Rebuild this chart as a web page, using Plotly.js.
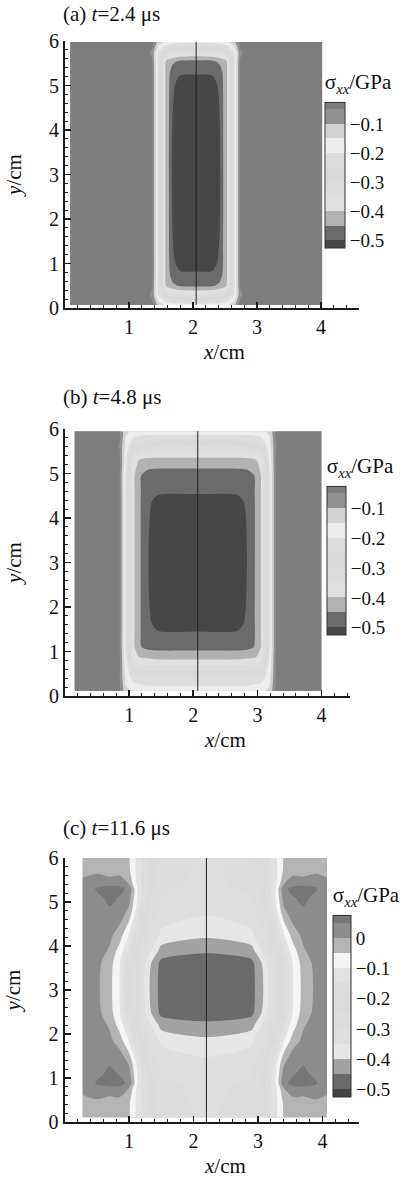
<!DOCTYPE html>
<html><head><meta charset="utf-8">
<script src="https://cdn.plot.ly/plotly-3.0.1.min.js"></script>
<style>html,body{margin:0;padding:0;background:#fff}#chart{width:400px;height:1179px}</style>
</head><body><div id="chart"></div>
<script>
// ---------- data (cm, GPa) ----------
// (a) t = 2.4 us
const xa = [0.08, 1.2, 1.36, 1.46, 1.58, 1.68, 1.8, 2.05, 2.3, 2.42, 2.52, 2.64, 2.74, 2.9, 4.02];
const ya = [0.07, 0.3, 0.5, 0.76, 1.05, 5.0, 5.3, 5.55, 5.75, 5.98];
const za = [
  [-0.02,-0.02,-0.03,-0.12,-0.16,-0.17,-0.18,-0.18,-0.18,-0.17,-0.16,-0.12,-0.03,-0.02,-0.02],
  [-0.02,-0.02,-0.06,-0.21,-0.28,-0.32,-0.34,-0.35,-0.34,-0.32,-0.28,-0.21,-0.06,-0.02,-0.02],
  [-0.02,-0.02,-0.045,-0.22,-0.405,-0.44,-0.455,-0.46,-0.455,-0.44,-0.405,-0.22,-0.045,-0.02,-0.02],
  [-0.02,-0.02,-0.04,-0.22,-0.42,-0.47,-0.485,-0.485,-0.485,-0.47,-0.42,-0.22,-0.04,-0.02,-0.02],
  [-0.02,-0.02,-0.04,-0.22,-0.42,-0.48,-0.545,-0.56,-0.545,-0.48,-0.42,-0.22,-0.04,-0.02,-0.02],
  [-0.02,-0.02,-0.04,-0.22,-0.42,-0.48,-0.545,-0.56,-0.545,-0.48,-0.42,-0.22,-0.04,-0.02,-0.02],
  [-0.02,-0.02,-0.04,-0.22,-0.42,-0.47,-0.485,-0.485,-0.485,-0.47,-0.42,-0.22,-0.04,-0.02,-0.02],
  [-0.02,-0.02,-0.045,-0.22,-0.405,-0.44,-0.455,-0.46,-0.455,-0.44,-0.405,-0.22,-0.045,-0.02,-0.02],
  [-0.02,-0.02,-0.06,-0.21,-0.28,-0.32,-0.34,-0.35,-0.34,-0.32,-0.28,-0.21,-0.06,-0.02,-0.02],
  [-0.02,-0.02,-0.03,-0.12,-0.16,-0.17,-0.18,-0.18,-0.18,-0.17,-0.16,-0.12,-0.03,-0.02,-0.02]
];
// (b) t = 4.8 us
const xb = [0.15, 0.7, 0.85, 0.95, 1.07, 1.16, 1.3, 1.45, 2.07, 2.69, 2.84, 2.98, 3.07, 3.19, 3.29, 3.44, 4.0];
const yb = [0.11, 0.45, 0.8, 1.1, 1.4, 1.65, 4.35, 4.6, 4.95, 5.3, 5.6, 5.95];
const zb = [
  [-0.02,-0.02,-0.04,-0.14,-0.16,-0.165,-0.17,-0.17,-0.17,-0.17,-0.17,-0.165,-0.16,-0.14,-0.04,-0.02,-0.02],
  [-0.02,-0.02,-0.045,-0.17,-0.23,-0.24,-0.255,-0.255,-0.255,-0.255,-0.255,-0.24,-0.23,-0.17,-0.045,-0.02,-0.02],
  [-0.02,-0.02,-0.04,-0.19,-0.35,-0.385,-0.39,-0.395,-0.395,-0.395,-0.39,-0.385,-0.35,-0.19,-0.04,-0.02,-0.02],
  [-0.02,-0.02,-0.045,-0.21,-0.39,-0.445,-0.465,-0.47,-0.47,-0.47,-0.465,-0.445,-0.39,-0.21,-0.045,-0.02,-0.02],
  [-0.02,-0.02,-0.045,-0.21,-0.39,-0.445,-0.48,-0.485,-0.485,-0.485,-0.48,-0.445,-0.39,-0.21,-0.045,-0.02,-0.02],
  [-0.02,-0.02,-0.045,-0.21,-0.39,-0.445,-0.48,-0.54,-0.56,-0.54,-0.48,-0.445,-0.39,-0.21,-0.045,-0.02,-0.02],
  [-0.02,-0.02,-0.045,-0.21,-0.39,-0.445,-0.48,-0.54,-0.56,-0.54,-0.48,-0.445,-0.39,-0.21,-0.045,-0.02,-0.02],
  [-0.02,-0.02,-0.045,-0.21,-0.39,-0.445,-0.475,-0.48,-0.48,-0.48,-0.475,-0.445,-0.39,-0.21,-0.045,-0.02,-0.02],
  [-0.02,-0.02,-0.045,-0.21,-0.39,-0.445,-0.47,-0.475,-0.475,-0.475,-0.47,-0.445,-0.39,-0.21,-0.045,-0.02,-0.02],
  [-0.02,-0.02,-0.04,-0.19,-0.36,-0.405,-0.42,-0.42,-0.42,-0.42,-0.42,-0.405,-0.36,-0.19,-0.04,-0.02,-0.02],
  [-0.02,-0.025,-0.052,-0.17,-0.26,-0.28,-0.29,-0.305,-0.305,-0.305,-0.29,-0.28,-0.26,-0.17,-0.052,-0.025,-0.02],
  [-0.02,-0.02,-0.04,-0.14,-0.16,-0.165,-0.17,-0.17,-0.17,-0.17,-0.17,-0.165,-0.16,-0.14,-0.04,-0.02,-0.02]
];
// (c) t = 11.6 us
const xc = [0.28, 0.5, 0.7, 0.85, 1.0, 1.15, 1.33, 1.5, 2.2, 2.9, 3.07, 3.25, 3.4, 3.55, 3.7, 3.9, 4.07];
const yc = [0.11, 0.45, 0.78, 0.88, 1.08, 1.38, 1.85, 2.2, 2.5, 3.6, 3.9, 4.25, 4.8, 5.1, 5.3, 5.4, 5.7, 6.0];
const zc = [
  [-0.02,-0.02,-0.02,-0.03,-0.045,-0.12,-0.21,-0.26,-0.31,-0.26,-0.21,-0.12,-0.045,-0.03,-0.02,-0.02,-0.02],
  [-0.01,-0.01,-0.03,-0.02,-0.04,-0.13,-0.22,-0.27,-0.32,-0.27,-0.22,-0.13,-0.04,-0.02,-0.03,-0.01,-0.01],
  [0.01,0.04,0.042,0.04,0.0,-0.13,-0.22,-0.28,-0.32,-0.28,-0.22,-0.13,0.0,0.04,0.042,0.04,0.01],
  [0.01,0.055,0.07,0.065,0.04,-0.12,-0.23,-0.29,-0.325,-0.29,-0.23,-0.12,0.04,0.065,0.07,0.055,0.01],
  [0.02,0.04,0.06,0.048,0.02,-0.12,-0.24,-0.305,-0.33,-0.305,-0.24,-0.12,0.02,0.048,0.06,0.04,0.02],
  [0.025,0.035,0.045,0.03,-0.01,-0.14,-0.26,-0.32,-0.34,-0.32,-0.26,-0.14,-0.01,0.03,0.045,0.035,0.025],
  [0.03,0.025,0.01,-0.02,-0.105,-0.21,-0.31,-0.36,-0.39,-0.36,-0.31,-0.21,-0.105,-0.02,0.01,0.025,0.03],
  [0.035,0.02,-0.005,-0.07,-0.15,-0.24,-0.34,-0.42,-0.435,-0.42,-0.34,-0.24,-0.15,-0.07,-0.005,0.02,0.035],
  [0.035,0.015,-0.03,-0.09,-0.21,-0.28,-0.395,-0.465,-0.485,-0.465,-0.395,-0.28,-0.21,-0.09,-0.03,0.015,0.035],
  [0.035,0.015,-0.03,-0.09,-0.21,-0.28,-0.395,-0.465,-0.485,-0.465,-0.395,-0.28,-0.21,-0.09,-0.03,0.015,0.035],
  [0.035,0.02,-0.005,-0.07,-0.15,-0.24,-0.34,-0.42,-0.44,-0.42,-0.34,-0.24,-0.15,-0.07,-0.005,0.02,0.035],
  [0.03,0.025,0.01,-0.02,-0.105,-0.21,-0.31,-0.36,-0.39,-0.36,-0.31,-0.21,-0.105,-0.02,0.01,0.025,0.03],
  [0.025,0.035,0.045,0.03,-0.01,-0.14,-0.26,-0.32,-0.34,-0.32,-0.26,-0.14,-0.01,0.03,0.045,0.035,0.025],
  [0.02,0.04,0.06,0.048,0.02,-0.12,-0.24,-0.305,-0.33,-0.305,-0.24,-0.12,0.02,0.048,0.06,0.04,0.02],
  [0.01,0.055,0.07,0.065,0.04,-0.12,-0.23,-0.29,-0.325,-0.29,-0.23,-0.12,0.04,0.065,0.07,0.055,0.01],
  [0.01,0.04,0.042,0.04,0.0,-0.13,-0.22,-0.28,-0.32,-0.28,-0.22,-0.13,0.0,0.04,0.042,0.04,0.01],
  [-0.01,-0.01,-0.03,-0.02,-0.04,-0.13,-0.22,-0.27,-0.32,-0.27,-0.22,-0.13,-0.04,-0.02,-0.03,-0.01,-0.01],
  [-0.02,-0.02,-0.02,-0.03,-0.045,-0.12,-0.21,-0.26,-0.31,-0.26,-0.21,-0.12,-0.045,-0.03,-0.02,-0.02,-0.02]
];
// measuring line positions (cm)
const cutX = [2.05, 2.07, 2.2];
const cutYa = [0.07, 5.98];
const cutYb = [0.11, 5.95];
const cutYc = [0.0, 6.15];
// contour level sets (GPa)
const levelsAB = {start: -0.5, end: -0.05, size: 0.05};
const levelsC  = {start: -0.5, end: 0.05, size: 0.05};
// tick labels
const xTicks = [1, 2, 3, 4];
const titles = ['(a) <i>t</i>=2.4 \u03bcs', '(b) <i>t</i>=4.8 \u03bcs', '(c) <i>t</i>=11.6 \u03bcs'];
const xTitle = '<i>x</i>/cm';
const yTitle = '<i>y</i>/cm';
const cbTitle = '\u03c3<sub><i>xx</i></sub>/GPa';

// ---------- styles ----------
const grayAB = ['#474747','#6b6b6b','#b2b2b2','#e0e0e0','#dcdcdc','#d9d9d9','#dcdcdc','#ececec','#d2d2d2','#909090','#7d7d7d'];
const grayC  = ['#444444','#6a6a6a','#a2a2a2','#e6e6e6','#dedede','#dcdcdc','#dadada','#dcdcdc','#e1e1e1','#f4f4f4','#b4b4b4','#8c8c8c','#767676'];
function scale(cols){ return cols.map((c,i)=>[i/(cols.length-1), c]); }

const W = 400, H = 1179;
const FONT = 'Liberation Serif, Times New Roman, serif';
const px = v => v / W;
const py = v => 1 - v / H;

function cbar(left, top, lenPx, thick){
  return {
    x: px(left), xanchor: 'left', xref: 'paper', xpad: 0,
    y: py(top), yanchor: 'top', yref: 'paper', ypad: 0,
    lenmode: 'pixels', len: lenPx, thicknessmode: 'pixels', thickness: thick,
    outlinewidth: 1, outlinecolor: '#333',
    ticks: '', tickmode: 'linear', tick0: 0, dtick: 0.1, ticklabelpad: 5,
    tickfont: {family: FONT, size: 19, color: '#111'},
    title: {text: cbTitle, side: 'top', font: {family: FONT, size: 21, color: '#111'}}
  };
}

function contour(x, y, z, lv, cols, xa_, ya_, cb){
  return {type: 'contour', x: x, y: y, z: z, xaxis: xa_, yaxis: ya_,
    autocontour: false, contours: Object.assign({coloring: 'fill', showlines: false}, lv),
    colorscale: scale(cols), line: {width: 0, smoothing: 0.7}, colorbar: cb, hoverinfo: 'skip'};
}
function cut(xv, yv, xa_, ya_){
  return {type: 'scatter', mode: 'lines', x: [xv, xv], y: yv, xaxis: xa_, yaxis: ya_,
    line: {color: '#222', width: 1}, showlegend: false, hoverinfo: 'skip'};
}

const data = [
  contour(xa, ya, za, levelsAB, grayAB, 'x', 'y', cbar(327, 71, 177, 20)),
  contour(xb, yb, zb, levelsAB, grayAB, 'x2', 'y2', cbar(329, 455, 180, 19)),
  contour(xc, yc, zc, levelsC, grayC, 'x3', 'y3', cbar(335, 884, 213, 18)),
  cut(cutX[0], cutYa, 'x', 'y'),
  cut(cutX[1], cutYb, 'x2', 'y2'),
  cut(cutX[2], cutYc, 'x3', 'y3')
];

function xAxis(dom, rng, anchor){
  return {domain: dom, range: rng, anchor: anchor, showline: true, linecolor: '#1a1a1a', linewidth: 2,
    ticks: 'inside', ticklen: 6, tickwidth: 1.5, tickcolor: '#1a1a1a', showgrid: false, zeroline: false,
    tickmode: 'array', tickvals: xTicks, ticktext: xTicks.map(String),
    tickfont: {family: FONT, size: 20, color: '#111'},
    minor: {tickmode: 'linear', tick0: 0, dtick: 0.2, ticks: 'inside', ticklen: 3, tickwidth: 1, tickcolor: '#1a1a1a', showgrid: false},
    fixedrange: true};
}
function yAxis(dom, anchor){
  return {domain: dom, range: [0, 6], anchor: anchor, showline: true, linecolor: '#1a1a1a', linewidth: 2,
    ticks: 'inside', ticklen: 6, tickwidth: 1.5, tickcolor: '#1a1a1a', showgrid: false, zeroline: false,
    tickmode: 'linear', tick0: 0, dtick: 1,
    tickfont: {family: FONT, size: 20, color: '#111'},
    minor: {tickmode: 'linear', tick0: 0, dtick: 0.2, ticks: 'inside', ticklen: 3, tickwidth: 1, tickcolor: '#1a1a1a', showgrid: false},
    title: {text: yTitle, font: {family: FONT, size: 21, color: '#111'}, standoff: 22},
    fixedrange: true};
}

const panelTop = [14, 397, 828];
const xTitleY = [352, 740, 1166];
const xTitleRef = ['x', 'x2', 'x3'];
const annotations = titles.map((t, i) => ({text: t, xref: 'paper', yref: 'paper', x: px(61), y: py(panelTop[i]),
    xanchor: 'left', yanchor: 'middle', showarrow: false, font: {family: FONT, size: 21, color: '#111'}}))
  .concat(xTitleY.map((v, i) => ({text: xTitle, xref: xTitleRef[i], yref: 'paper', x: 2.49, y: py(v),
    xanchor: 'center', yanchor: 'middle', showarrow: false, font: {family: FONT, size: 21, color: '#111'}})));

const layout = {
  width: W, height: H, margin: {l: 0, r: 0, t: 0, b: 0},
  paper_bgcolor: '#fff', plot_bgcolor: '#fff', showlegend: false,
  xaxis:  xAxis([px(65.5), px(362)], [0, 4.6], 'y'),
  yaxis:  yAxis([py(308), py(41)], 'x'),
  xaxis2: xAxis([px(65.5), px(353)], [0, 4.45], 'y2'),
  yaxis2: yAxis([py(696), py(429)], 'x2'),
  xaxis3: xAxis([px(65), px(362)], [0, 4.57], 'y3'),
  yaxis3: yAxis([py(1122), py(858)], 'x3'),
  annotations: annotations
};

Plotly.newPlot('chart', data, layout, {staticPlot: true, displayModeBar: false});
</script></body></html>
